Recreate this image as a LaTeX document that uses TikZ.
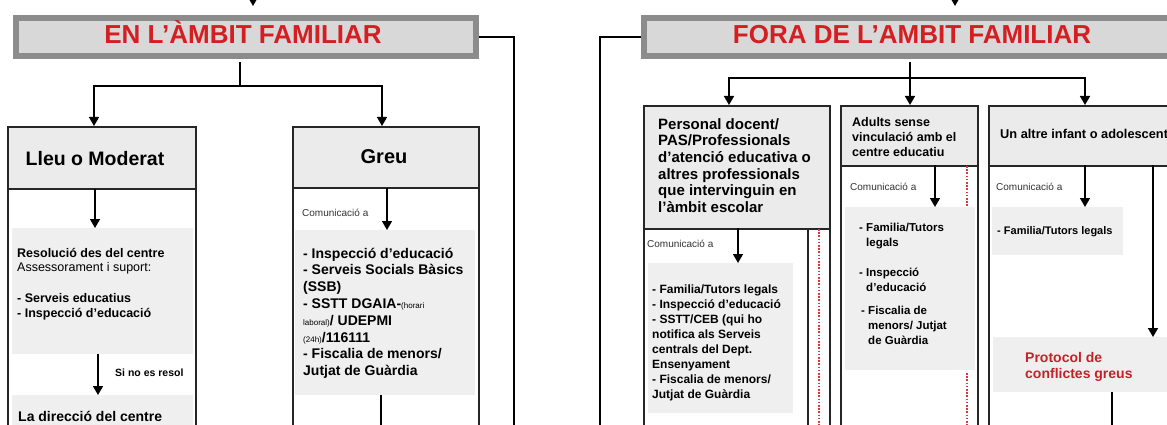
\documentclass[tikz,border=0pt]{standalone}
\usepackage{fontspec}
\setmainfont{Liberation Sans}
\usetikzlibrary{arrows.meta}
\definecolor{barfill}{HTML}{D8D8D8}
\definecolor{barline}{HTML}{8C8C8C}
\definecolor{hdrfill}{HTML}{EBEBEB}
\definecolor{shade}{HTML}{EFEFEF}
\definecolor{titlered}{HTML}{D41E22}
\definecolor{protred}{HTML}{C8202A}
\definecolor{boxline}{HTML}{262626}
\definecolor{dotred}{HTML}{D83A3A}
\definecolor{smallgray}{HTML}{333333}
\newcommand\fsz[2]{\fontsize{#1}{#2}\selectfont}
\begin{document}
\begin{tikzpicture}[x=1pt,y=-1pt,
  conn/.style={line width=1.5pt,draw=black},
  arr/.style={conn,-{Triangle[length=9pt,width=10pt]}},
  bar/.style={draw=barline,fill=barfill,line width=6pt,inner sep=0,anchor=north west},
  bodybox/.style={draw=boxline,line width=1.7pt,fill=white,inner sep=0,anchor=north west},
  hdrbox/.style={draw=boxline,line width=1.7pt,fill=hdrfill,inner sep=0,anchor=north west},
  shadebox/.style={fill=shade,inner sep=0,anchor=north west},
  txt/.style={inner sep=0,anchor=base west,align=left},
  comm/.style={txt,font=\fsz{10}{12},text=smallgray},
  reddots/.style={draw=dotred,line width=2pt,dash pattern=on 1.6pt off 1.6pt},
]
\useasboundingbox (0,0) rectangle (1167,425);
\clip (0,0) rectangle (1167,425);

% ================= LEFT SECTION =================
\coordinate (ltopS) at (253,-20);
\coordinate (ltopE) at (253,6);
\draw[arr] (ltopS) -- (ltopE);

% boxes
\node[bodybox,minimum width=188pt,minimum height=330pt] (lleu) at (7,126) {};
\node[hdrbox,minimum width=188pt,minimum height=62pt] (lleuH) at (7,126) {};
\node[bodybox,minimum width=186pt,minimum height=330pt] (greu) at (292,126) {};
\node[hdrbox,minimum width=186pt,minimum height=61pt] (greuH) at (292,126) {};

% connectors from bar
\coordinate (lj) at (240,86);
\coordinate (lleuIn) at (94,126);
\coordinate (greuIn) at (382,126);
\coordinate (lconnB) at (514,440);
\node[bar,minimum width=460pt,minimum height=38pt] (lbar) at (13,15) {};
\draw[conn] (lbar.east) -| (lconnB);
\draw[conn] (lj |- lbar.south) ++(0,3) -- (lj);
\draw[arr] (lj) -| (lleuIn);
\draw[arr] (lj) -| (greuIn);
\node[inner sep=0,anchor=base,font=\fsz{26}{30}\bfseries,text=titlered] (ltitle) at (243,43.5) {EN L’ÀMBIT FAMILIAR};

% Lleu o Moderat
\node[inner sep=0,anchor=base,font=\fsz{19.5}{22}\bfseries] (lleuT) at (95,165) {Lleu o Moderat};
\node[shadebox,minimum width=181pt,minimum height=126pt] (resS) at (12,228) {};
\coordinate (resA1) at (95,189);
\draw[arr] (resA1) -- (resA1 |- resS.north);
\node[txt,font=\fsz{12.5}{14}] (resT) at (17,271) {\bfseries Resolució des del centre\\Assessorament i suport:};
\node[txt,font=\fsz{12.5}{15}\bfseries] (resL) at (17,317) {- Serveis educatius\\- Inspecció d’educació};
\node[shadebox,minimum width=181pt,minimum height=40pt] (dirS) at (12,395) {};
\coordinate (resA2) at (98,354);
\draw[arr] (resA2) -- (resA2 |- dirS.north);
\node[txt,font=\fsz{10.5}{12}\bfseries] (sino) at (115,376) {Si no es resol};
\node[txt,font=\fsz{14}{16}\bfseries] (dirT) at (18,421) {La direcció del centre};

% Greu
\node[inner sep=0,anchor=base,font=\fsz{20}{22}\bfseries] (greuT) at (384,164) {Greu};
\node[comm] (greuC) at (302,216) {Comunicació a};
\node[shadebox,minimum width=180pt,minimum height=165pt] (greuS) at (295,230) {};
\coordinate (greuA1) at (387,188);
\draw[arr] (greuA1) -- (greuA1 |- greuS.north);
\node[txt,font=\fsz{14}{16.8}\bfseries] (greuL) at (303,375.6) {- Inspecció d’educació\\- Serveis Socials Bàsics\\(SSB)\\- SSTT DGAIA-{\mdseries\fsz{8}{16.8}(horari}\\{\mdseries\fsz{8}{16.8}laboral)}/ UDEPMI\\{\mdseries\fsz{8}{16.8}(24h)}/116111\\- Fiscalia de menors/\\Jutjat de Guàrdia};
\coordinate (greuA2) at (381,395);
\coordinate (greuA2e) at (381,436);
\draw[arr] (greuA2) -- (greuA2e);

% ================= RIGHT SECTION =================
\coordinate (rtopS) at (955,-20);
\coordinate (rtopE) at (955,6);
\draw[arr] (rtopS) -- (rtopE);

% boxes
\node[bodybox,minimum width=186pt,minimum height=340pt] (b1) at (643,105) {};
\node[hdrbox,minimum width=186pt,minimum height=123pt] (b1H) at (643,105) {};
\node[bodybox,minimum width=137pt,minimum height=340pt] (b2) at (840,105) {};
\node[hdrbox,minimum width=137pt,minimum height=60pt] (b2H) at (840,105) {};
\node[bodybox,minimum width=200pt,minimum height=340pt] (b3) at (988,105) {};
\node[hdrbox,minimum width=200pt,minimum height=60pt] (b3H) at (988,105) {};

\coordinate (rj) at (910,78);
\coordinate (b1In) at (729,105);
\coordinate (b3In) at (1085,105);
\coordinate (rconnB) at (600,440);
\node[bar,minimum width=560pt,minimum height=38pt] (rbar) at (641,15) {};
\draw[conn] (rbar.west) -| (rconnB);
\draw[conn] (rj |- rbar.south) ++(0,3) -- (rj);
\draw[arr] (rj) -| (b1In);
\draw[arr] (rj) -| (b3In);
\draw[arr] (rj) -- (rj |- b2.north);
\node[inner sep=0,anchor=base,font=\fsz{26}{30}\bfseries,text=titlered] (rtitle) at (912,43.5) {FORA DE L’AMBIT FAMILIAR};

% Box 1
\node[txt,font=\fsz{15}{16.7}\bfseries] (b1T) at (658,212.5) {Personal docent/\\PAS/Professionals\\d’atenció educativa o\\altres professionals\\que intervinguin en\\l’àmbit escolar};
\node[comm] (b1C) at (647,247) {Comunicació a};
\node[shadebox,minimum width=145pt,minimum height=150pt] (b1S) at (648,263) {};
\coordinate (b1A) at (738,228);
\draw[arr] (b1A) -- (b1A |- b1S.north);
\node[txt,font=\fsz{12}{15}\bfseries] (b1L) at (652,398) {- Familia/Tutors legals\\- Inspecció d’educació\\- SSTT/CEB (qui ho\\notifica als Serveis\\centrals del Dept.\\Ensenyament\\- Fiscalia de menors/\\Jutjat de Guàrdia};
\coordinate (b1V) at (808,228);
\coordinate (b1Vb) at (808,440);
\draw[line width=1.7pt,draw=boxline] (b1V) -- (b1Vb);
\coordinate (b1D) at (819,229);
\coordinate (b1Db) at (819,440);
\draw[reddots] (b1D) -- (b1Db);

% Box 2
\node[txt,font=\fsz{12.5}{15}\bfseries] (b2T) at (852,157) {Adults sense\\vinculació amb el\\centre educatiu};
\node[comm] (b2C) at (850,190) {Comunicació a};
\node[shadebox,minimum width=130pt,minimum height=163pt] (b2S) at (845,207) {};
\coordinate (b2A) at (935,165);
\draw[arr] (b2A) -- (b2A |- b2S.north);
\node[txt,font=\fsz{11.5}{15}\bfseries] (b2L1) at (859,246) {- Familia/Tutors\\\phantom{- }legals};
\node[txt,font=\fsz{11.5}{15}\bfseries] (b2L2) at (859,291) {- Inspecció\\\phantom{- }d’educació};
\node[txt,font=\fsz{11.5}{15}\bfseries] (b2L3) at (861,344) {- Fiscalia de\\\phantom{- }menors/ Jutjat\\\phantom{- }de Guàrdia};
\coordinate (b2D1) at (967,166);
\coordinate (b2D1b) at (967,207);
\draw[reddots] (b2D1) -- (b2D1b);
\coordinate (b2D2) at (967,373);
\coordinate (b2D2b) at (967,440);
\draw[reddots] (b2D2) -- (b2D2b);

% Box 3
\node[txt,font=\fsz{12.8}{15}\bfseries] (b3T) at (1000,139) {Un altre infant o adolescent};
\node[comm] (b3C) at (996,190) {Comunicació a};
\node[shadebox,minimum width=131pt,minimum height=48pt] (b3S) at (992,207) {};
\coordinate (b3A) at (1085,165);
\draw[arr] (b3A) -- (b3A |- b3S.north);
\node[txt,font=\fsz{11}{13}\bfseries] (b3L) at (997,234) {- Familia/Tutors legals};
\node[shadebox,minimum width=180pt,minimum height=55pt] (protS) at (993,337) {};
\coordinate (b3B) at (1153,165);
\draw[arr] (b3B) -- (b3B |- protS.north);
\node[txt,font=\fsz{14}{16}\bfseries,text=protred] (protT) at (1025,378) {Protocol de\\conflictes greus};
\coordinate (protE) at (1112,440);
\draw[conn] (protS.south -| protE) -- (protE);
\end{tikzpicture}
\end{document}
